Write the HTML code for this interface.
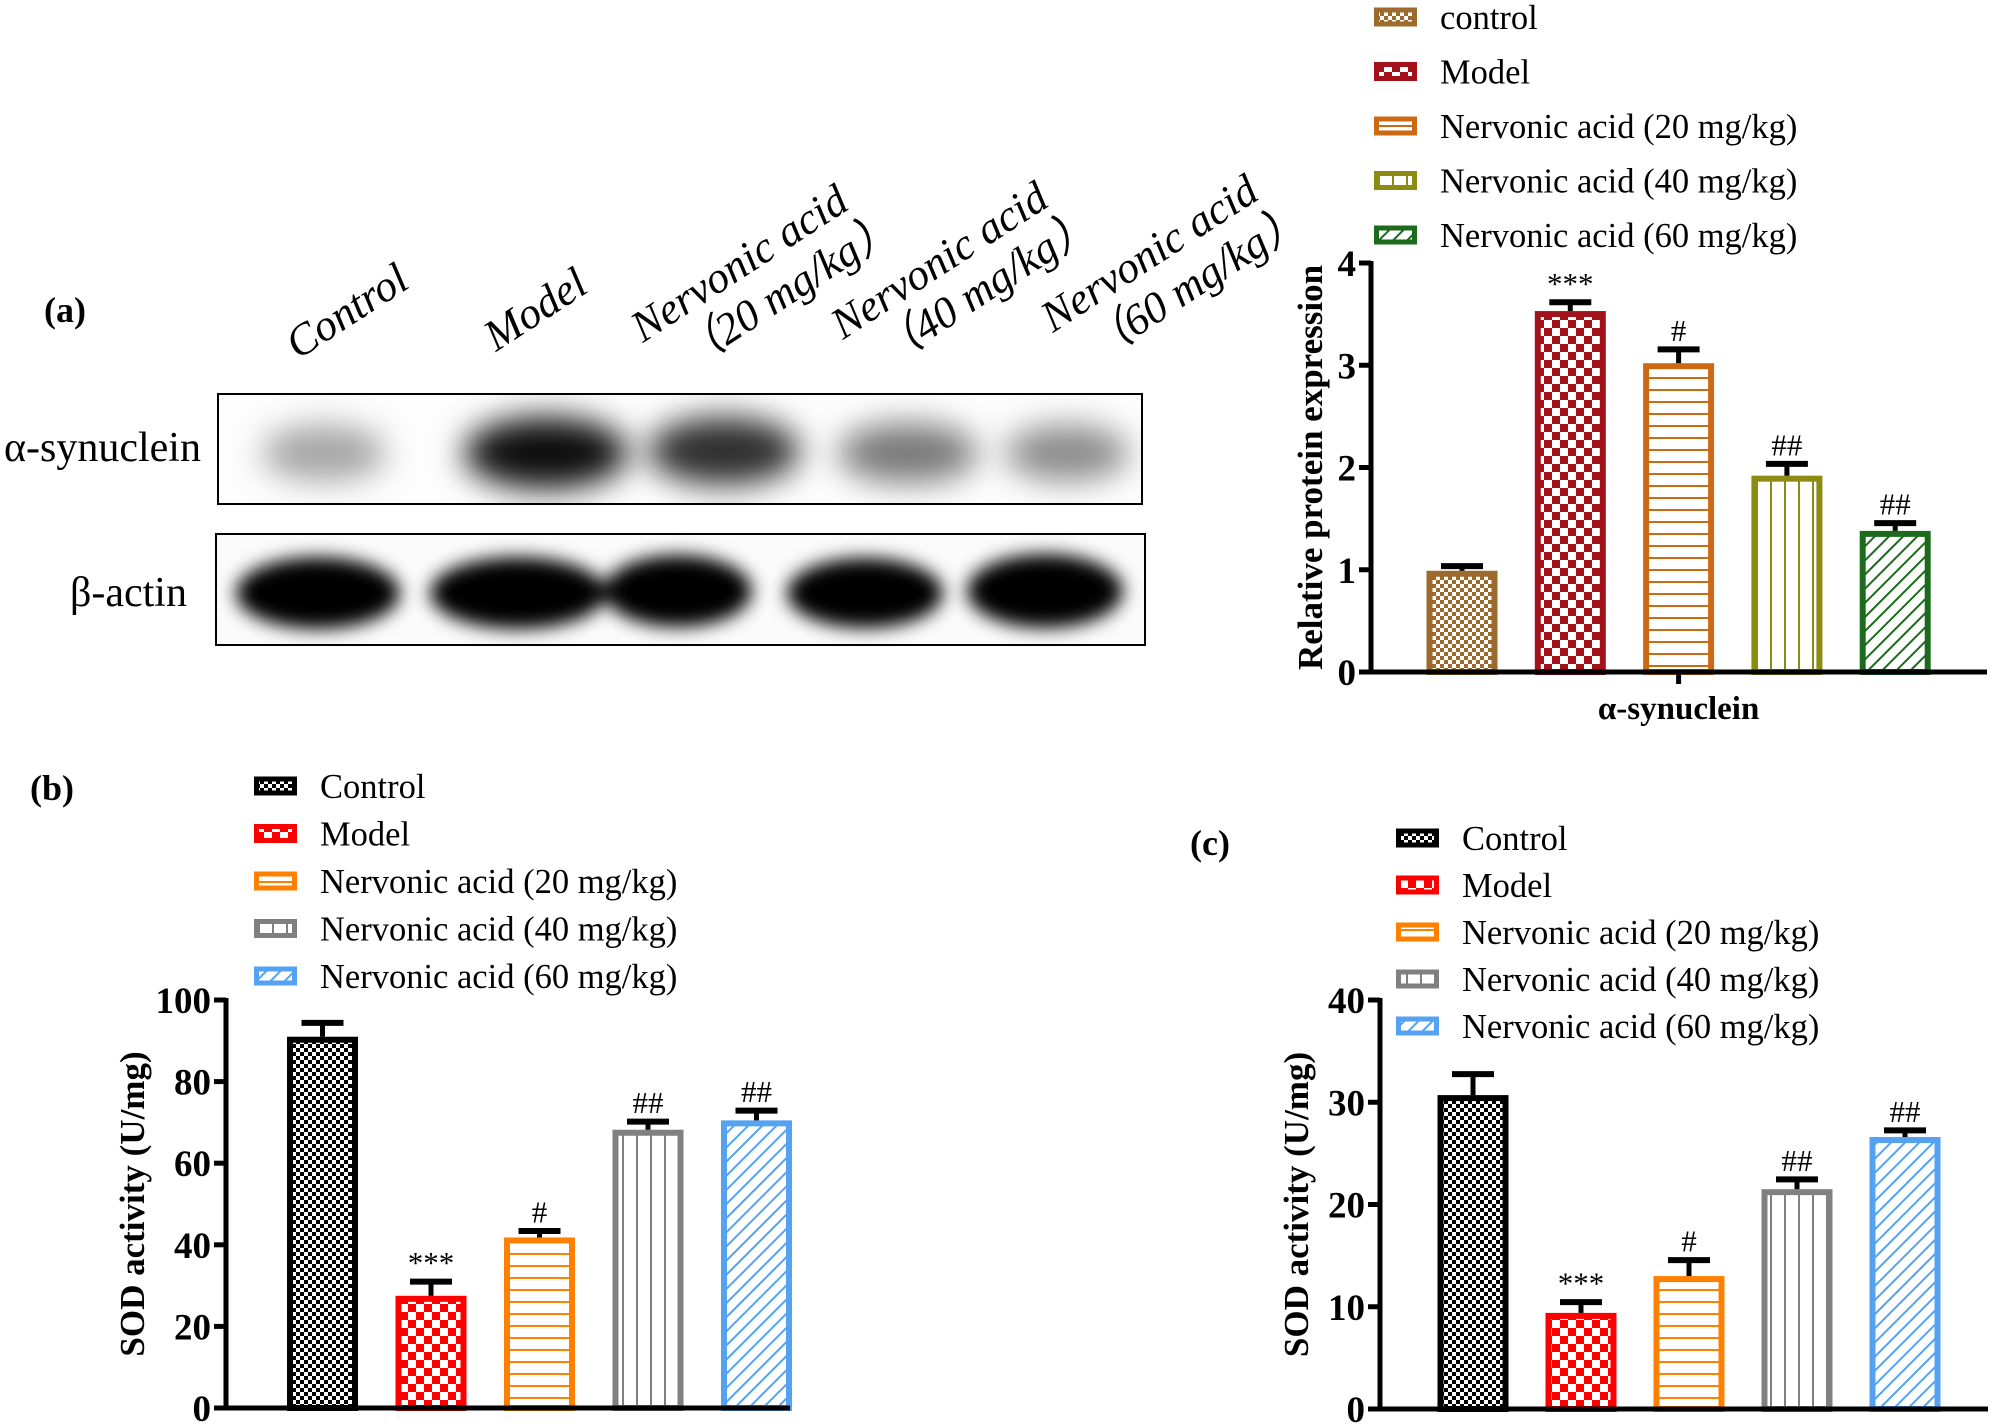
<!DOCTYPE html>
<html><head><meta charset="utf-8"><style>
html,body{margin:0;padding:0;background:#fff}
svg{display:block}
text{font-family:"Liberation Serif",serif}
</style></head><body>
<svg id="fig" width="2000" height="1425" viewBox="0 0 2000 1425" xmlns="http://www.w3.org/2000/svg">
<defs id="defs">
  <filter id="blur" x="-50%" y="-50%" width="200%" height="200%"><feGaussianBlur stdDeviation="16"/></filter>
  <filter id="blur2" x="-50%" y="-50%" width="200%" height="200%"><feGaussianBlur stdDeviation="9"/></filter>
</defs>
<g>
  <text x="44" y="322" font-size="36" font-weight="bold">(a)</text>
  <g font-size="44" font-style="italic">
    <text transform="translate(298,360) rotate(-33)">Control</text>
    <text transform="translate(496,352) rotate(-33)">Model</text>
    <text transform="translate(643,343) rotate(-33)">Nervonic acid</text>
    <text transform="translate(690,370) rotate(-33)" font-family="Liberation Serif, Noto Serif CJK SC, serif">（20 mg/kg）</text>
    <text transform="translate(843,340) rotate(-33)">Nervonic acid</text>
    <text transform="translate(888,367) rotate(-33)" font-family="Liberation Serif, Noto Serif CJK SC, serif">（40 mg/kg）</text>
    <text transform="translate(1053,333) rotate(-33)">Nervonic acid</text>
    <text transform="translate(1098,362) rotate(-33)" font-family="Liberation Serif, Noto Serif CJK SC, serif">（60 mg/kg）</text>
  </g>
  <text x="4" y="461" font-size="42">α-synuclein</text>
  <text x="70" y="606" font-size="42">β-actin</text>
  <svg x="217" y="393" width="926" height="112">
    <rect width="926" height="112" fill="#fdfdfd"/>
    <g filter="url(#blur)">
      <ellipse cx="107" cy="60" rx="62" ry="28" fill="#000" opacity="0.35"/>
      <ellipse cx="329" cy="60" rx="82" ry="36" fill="#000" opacity="0.95"/>
      <ellipse cx="507" cy="58" rx="76" ry="34" fill="#000" opacity="0.82"/>
      <ellipse cx="691" cy="60" rx="70" ry="30" fill="#000" opacity="0.52"/>
      <ellipse cx="850" cy="60" rx="62" ry="28" fill="#000" opacity="0.45"/>
    </g>
    <rect x="1" y="1" width="924" height="110" fill="none" stroke="#000" stroke-width="2"/>
  </svg>
  <svg x="215" y="533" width="931" height="113">
    <rect width="931" height="113" fill="#fbfbfb"/>
    <g filter="url(#blur2)">
      <ellipse cx="103" cy="60" rx="82" ry="36" fill="#000"/>
      <ellipse cx="303" cy="60" rx="88" ry="36" fill="#000"/>
      <ellipse cx="463" cy="58" rx="74" ry="36" fill="#000"/>
      <ellipse cx="650" cy="60" rx="78" ry="35" fill="#000"/>
      <ellipse cx="830" cy="58" rx="78" ry="37" fill="#000"/>
    </g>
    <rect x="1" y="1" width="929" height="111" fill="none" stroke="#000" stroke-width="2"/>
  </svg>
  <text x="30" y="800" font-size="36" font-weight="bold">(b)</text>
  <text x="1190" y="855" font-size="36" font-weight="bold">(c)</text>
</g>
<g id="charts"></g>
</svg>
<script>
// ---- Data ----
const groupsA = ["control","Model","Nervonic acid (20 mg/kg)","Nervonic acid (40 mg/kg)","Nervonic acid (60 mg/kg)"];
const groupsBC = ["Control","Model","Nervonic acid (20 mg/kg)","Nervonic acid (40 mg/kg)","Nervonic acid (60 mg/kg)"];
const valuesA = [0.99, 3.53, 3.02, 1.92, 1.38];
const errorsA = [0.07, 0.11, 0.16, 0.14, 0.10];
const valuesB = [91, 27.5, 41.8, 68.2, 70.5];
const errorsB = [4.0, 4.1, 2.2, 2.6, 3.0];
const valuesC = [30.7, 9.4, 13.0, 21.5, 26.6];
const errorsC = [2.3, 1.3, 1.8, 1.2, 0.9];
const marks = ["", "***", "#", "##", "##"];
const ticksA = [0, 1, 2, 3, 4];
const ticksB = [0, 20, 40, 60, 80, 100];
const ticksC = [0, 10, 20, 30, 40];

const NS = "http://www.w3.org/2000/svg";
const defs = document.getElementById('defs');
const root = document.getElementById('charts');
function mk(tag, attrs, parent){const e=document.createElementNS(NS,tag);for(const k in attrs)e.setAttribute(k,attrs[k]);if(parent)parent.appendChild(e);return e;}

const kinds = ["checkS","checkL","hlines","vlines","diag"];
function makePattern(id, kind, color){
  let p;
  if(kind==="checkS"||kind==="checkL"){
    const s = kind==="checkS"?4:8;
    p = mk('pattern',{id:id,patternUnits:'userSpaceOnUse',width:2*s,height:2*s},defs);
    mk('rect',{width:2*s,height:2*s,fill:'#fff'},p);
    mk('rect',{width:s,height:s,fill:color},p);
    mk('rect',{x:s,y:s,width:s,height:s,fill:color},p);
  } else if(kind==="hlines"){
    p = mk('pattern',{id:id,patternUnits:'userSpaceOnUse',width:10,height:12},defs);
    mk('rect',{width:10,height:12,fill:'#fff'},p);
    mk('rect',{y:5,width:10,height:2,fill:color},p);
  } else if(kind==="vlines"){
    p = mk('pattern',{id:id,patternUnits:'userSpaceOnUse',width:14,height:10},defs);
    mk('rect',{width:14,height:10,fill:'#fff'},p);
    mk('rect',{x:6,width:2,height:10,fill:color},p);
  } else {
    p = mk('pattern',{id:id,patternUnits:'userSpaceOnUse',width:10,height:10,patternTransform:'rotate(45)'},defs);
    mk('rect',{width:10,height:10,fill:'#fff'},p);
    mk('rect',{x:4,width:2,height:10,fill:color},p);
  }
}

function drawChart(cfg){
  const g = mk('g',{},root);
  
  
  const y = v => cfg.y0 - (v/cfg.max)*(cfg.y0-cfg.yTop);
  const x = i => cfg.c0 + i*cfg.pitch;
  cfg.colors.forEach((c,i)=>makePattern(cfg.id+'p'+i, kinds[i], c));
  cfg.groups.forEach((name,i)=>{
    const ly = cfg.legY + i*cfg.legGap;
    const lg = mk('g',{},g);
    
    
    mk('rect',{x:cfg.legX+2.5,y:ly-7,width:38,height:14,fill:'url(#'+cfg.id+'p'+i+')',stroke:cfg.colors[i],'stroke-width':5},lg);
    const t = mk('text',{x:cfg.legX+66,y:ly+12,'font-size':34.5},lg);
    t.textContent = name;
  });
  cfg.values.forEach((v,i)=>{
    const cx = x(i), top = y(v), bw = 71, sw = 6;
    const bg = mk('g',{},g);
    
    
    mk('rect',{x:cx-bw/2+sw/2,y:top+sw/2,width:bw-sw,height:cfg.y0-top-sw/2,fill:'url(#'+cfg.id+'p'+i+')',stroke:cfg.colors[i],'stroke-width':sw},bg);
    const et = y(v+cfg.errors[i]);
    mk('line',{x1:cx,x2:cx,y1:top,y2:et,stroke:'#000','stroke-width':5},bg);
    mk('line',{x1:cx-21,x2:cx+21,y1:et+2.5,y2:et+2.5,stroke:'#000','stroke-width':6},bg);
    if(cfg.marks[i]){
      const t = mk('text',{x:cx,y:et-6,'font-size':31,'text-anchor':'middle'},bg);
      
      
      t.textContent = cfg.marks[i];
    }
  });
  const ax = mk('g',{stroke:'#000','stroke-width':5},g);
  
  
  mk('line',{x1:cfg.ax,x2:cfg.ax,y1:cfg.yTop-2,y2:cfg.y0+2.5},ax);
  mk('line',{x1:cfg.ax-2.5,x2:cfg.xEnd,y1:cfg.y0,y2:cfg.y0},ax);
  cfg.ticks.forEach(tv=>{
    mk('line',{x1:cfg.ax-12,x2:cfg.ax,y1:y(tv),y2:y(tv)},ax);
    const t = mk('text',{x:cfg.ax-15,y:y(tv)+13,'font-size':37,'font-weight':'bold','text-anchor':'end'},g);
    
    
    t.textContent = tv;
  });
  const yt = mk('text',{transform:'translate('+cfg.titleX+','+((cfg.y0+cfg.yTop)/2)+') rotate(-90)','font-size':cfg.titleSize,'font-weight':'bold','text-anchor':'middle'},g);
  
  
  yt.textContent = cfg.yTitle;
  if(cfg.xLabel){
    mk('line',{x1:x(2),x2:x(2),y1:cfg.y0,y2:cfg.y0+12,stroke:'#000','stroke-width':5},g);
    const xl = mk('text',{x:x(2),y:cfg.y0+47,'font-size':33,'font-weight':'bold','text-anchor':'middle'},g);
    
    
    xl.textContent = cfg.xLabel;
  }
}

drawChart({name:'protein-expression-chart',id:'a',groups:groupsA,values:valuesA,errors:errorsA,marks:marks,ticks:ticksA,
  max:4,y0:672,yTop:263,ax:1371,xEnd:1987,c0:1462,pitch:108.3,colors:['#9C6A2C','#A3121A','#CC6A14','#8C8C12','#1C6A1C'],
  legX:1374,legY:17,legGap:54.5,titleX:1322,titleSize:35,yTitle:'Relative protein expression',xLabel:'α-synuclein'});
drawChart({name:'sod-activity-chart-b',id:'b',groups:groupsBC,values:valuesB,errors:errorsB,marks:marks,ticks:ticksB,
  max:100,y0:1408,yTop:1000,ax:226,xEnd:790,c0:322.5,pitch:108.5,colors:['#000000','#FF0000','#FF8000','#808080','#55A2F2'],
  legX:254,legY:786,legGap:47.5,titleX:144,titleSize:35,yTitle:'SOD activity (U/mg)'});
drawChart({name:'sod-activity-chart-c',id:'c',groups:groupsBC,values:valuesC,errors:errorsC,marks:marks,ticks:ticksC,
  max:40,y0:1409,yTop:1000,ax:1380,xEnd:1988,c0:1473,pitch:108,colors:['#000000','#FF0000','#FF8000','#808080','#55A2F2'],
  legX:1396,legY:838,legGap:47,titleX:1308,titleSize:35,yTitle:'SOD activity (U/mg)'});
</script>
</body></html>
